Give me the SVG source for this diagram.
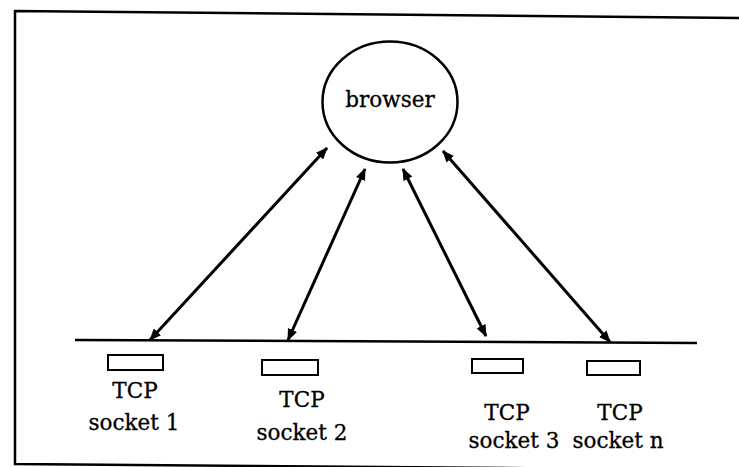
<svg xmlns="http://www.w3.org/2000/svg" width="739" height="467" viewBox="0 0 739 467">
  <defs>
    <marker id="head" viewBox="0 0 12 10" refX="11" refY="5" markerWidth="12" markerHeight="10" markerUnits="userSpaceOnUse" orient="auto-start-reverse">
      <path d="M0,0 L12,5 L0,10 Z" fill="#000"/>
    </marker>
    <style>
      .frame { fill: none; stroke: #000; stroke-width: 2.5; }
      .bus { fill: none; stroke: #000; stroke-width: 2.5; }
      .link { fill: none; stroke: #000; stroke-width: 3; marker-start: url(#head); marker-end: url(#head); }
      .socket { fill: #fff; stroke: #000; stroke-width: 2; }
      .node { fill: #fff; stroke: #000; stroke-width: 2.5; }
      .label { font-family: 'DejaVu Serif', 'Liberation Serif', serif; font-size: 21.5px; fill: #000; stroke: #000; stroke-width: 0.3; text-anchor: middle; }
    </style>
  </defs>

  <!-- outer frame -->
  <path class="frame" d="M739,18 L15,11 L15,464 L739,470"/>

  <!-- shared bus line -->
  <path class="bus" d="M75,340 L697,343"/>

  <g id="connectors">
    <line class="link" x1="150" y1="340" x2="327" y2="148"/>
    <line class="link" x1="288" y1="340" x2="365" y2="169"/>
    <line class="link" x1="486" y1="336" x2="403" y2="169"/>
    <line class="link" x1="610" y1="342" x2="443" y2="151"/>
  </g>

  <g id="browser">
    <ellipse class="node" cx="390" cy="102" rx="67.5" ry="60.5"/>
    <text class="label" x="390" y="107">browser</text>
  </g>

  <g id="socket1">
    <rect class="socket" x="108" y="355" width="55" height="15"/>
    <text class="label" x="135" y="398">TCP</text>
    <text class="label" x="134" y="430">socket 1</text>
  </g>

  <g id="socket2">
    <rect class="socket" x="262" y="360" width="56" height="15"/>
    <text class="label" x="302" y="407">TCP</text>
    <text class="label" x="302" y="440">socket 2</text>
  </g>

  <g id="socket3">
    <rect class="socket" x="472" y="359" width="51" height="14"/>
    <text class="label" x="507" y="420">TCP</text>
    <text class="label" x="514" y="448">socket 3</text>
  </g>

  <g id="socketn">
    <rect class="socket" x="587" y="361" width="53" height="14"/>
    <text class="label" x="620" y="420">TCP</text>
    <text class="label" x="618" y="448">socket n</text>
  </g>
</svg>
